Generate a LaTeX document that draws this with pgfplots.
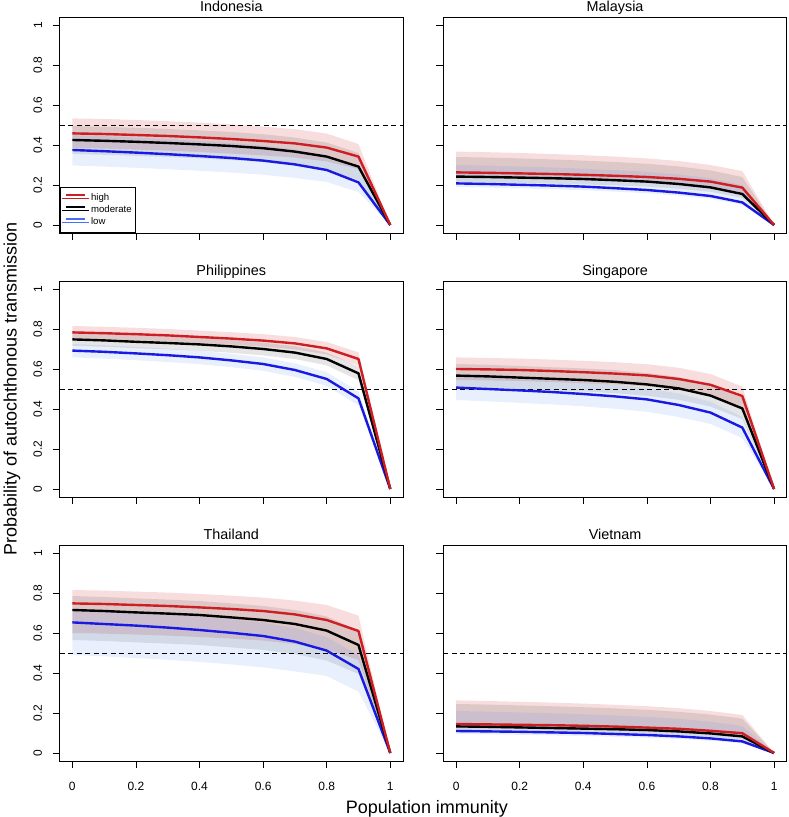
\documentclass[border=0pt]{standalone}
\usepackage{pgfplots}
\pgfplotsset{compat=1.18}
\usepackage{pgfplotstable}
\usepgfplotslibrary{fillbetween}
\usepackage{fontspec}
\setmainfont{Liberation Sans}

\definecolor{hicol}{RGB}{205,30,35}
\definecolor{locol}{RGB}{25,25,225}
\definecolor{leglo}{RGB}{70,110,250}
\definecolor{bandblue}{RGB}{100,150,240}

\pgfplotstableread{
x   hi    mo    lo    hiU   hiL   moU   moL   loU   loL
0.0 0.458 0.425 0.375 0.533 0.385 0.495 0.355 0.450 0.298
0.1 0.455 0.421 0.369 0.530 0.382 0.491 0.351 0.444 0.292
0.2 0.450 0.416 0.362 0.525 0.377 0.486 0.346 0.437 0.286
0.3 0.445 0.410 0.354 0.519 0.372 0.480 0.340 0.429 0.279
0.4 0.438 0.403 0.345 0.512 0.365 0.473 0.333 0.420 0.271
0.5 0.430 0.395 0.335 0.503 0.357 0.465 0.325 0.410 0.262
0.6 0.420 0.384 0.322 0.492 0.348 0.454 0.314 0.397 0.251
0.7 0.408 0.367 0.303 0.479 0.337 0.437 0.297 0.378 0.235
0.8 0.387 0.342 0.275 0.457 0.318 0.412 0.272 0.348 0.215
0.9 0.342 0.292 0.213 0.405 0.280 0.360 0.225 0.283 0.165
1.0 0     0     0     0     0     0     0     0     0
}\indo

\pgfplotstableread{
x   hi    mo    lo    hiU   hiL   moU   moL   loU   loL
0.0 0.263 0.242 0.208 0.367 0.235 0.340 0.215 0.300 0.190
0.1 0.261 0.240 0.205 0.364 0.233 0.337 0.213 0.297 0.187
0.2 0.258 0.237 0.201 0.360 0.230 0.333 0.210 0.293 0.183
0.3 0.255 0.234 0.197 0.355 0.227 0.328 0.207 0.288 0.179
0.4 0.251 0.230 0.192 0.349 0.223 0.322 0.203 0.282 0.174
0.5 0.246 0.224 0.184 0.342 0.218 0.315 0.198 0.275 0.167
0.6 0.240 0.217 0.175 0.333 0.212 0.306 0.192 0.266 0.159
0.7 0.231 0.205 0.162 0.320 0.204 0.293 0.181 0.253 0.147
0.8 0.217 0.188 0.145 0.300 0.191 0.273 0.166 0.234 0.131
0.9 0.187 0.155 0.113 0.270 0.163 0.240 0.135 0.200 0.101
1.0 0     0     0     0     0     0     0     0     0
}\malay

\pgfplotstableread{
x   hi    mo    lo    hiU   hiL   moU   moL   loU   loL
0.0 0.783 0.748 0.692 0.815 0.753 0.780 0.716 0.725 0.658
0.1 0.779 0.743 0.686 0.811 0.749 0.775 0.711 0.719 0.652
0.2 0.774 0.736 0.678 0.806 0.744 0.768 0.704 0.711 0.644
0.3 0.768 0.730 0.669 0.800 0.738 0.762 0.698 0.702 0.635
0.4 0.760 0.723 0.658 0.792 0.730 0.755 0.691 0.691 0.624
0.5 0.752 0.713 0.643 0.784 0.722 0.745 0.681 0.676 0.609
0.6 0.742 0.700 0.625 0.774 0.712 0.732 0.668 0.658 0.591
0.7 0.728 0.682 0.595 0.760 0.698 0.714 0.650 0.628 0.561
0.8 0.703 0.650 0.550 0.735 0.673 0.682 0.618 0.584 0.515
0.9 0.650 0.578 0.453 0.683 0.618 0.612 0.544 0.488 0.418
1.0 0     0     0     0     0     0     0     0     0
}\phil

\pgfplotstableread{
x   hi    mo    lo    hiU   hiL   moU   moL   loU   loL
0.0 0.600 0.567 0.507 0.658 0.545 0.625 0.510 0.565 0.445
0.1 0.598 0.563 0.500 0.655 0.543 0.621 0.506 0.558 0.438
0.2 0.595 0.557 0.493 0.652 0.540 0.615 0.500 0.551 0.431
0.3 0.590 0.551 0.485 0.647 0.535 0.609 0.494 0.543 0.423
0.4 0.584 0.545 0.475 0.641 0.529 0.603 0.488 0.533 0.413
0.5 0.577 0.536 0.463 0.634 0.522 0.594 0.479 0.521 0.401
0.6 0.568 0.523 0.448 0.624 0.513 0.580 0.466 0.505 0.386
0.7 0.550 0.503 0.420 0.606 0.495 0.560 0.446 0.477 0.360
0.8 0.521 0.467 0.382 0.575 0.466 0.522 0.412 0.437 0.325
0.9 0.465 0.403 0.307 0.512 0.415 0.455 0.350 0.360 0.255
1.0 0     0     0     0     0     0     0     0     0
}\sing

\pgfplotstableread{
x   hi    mo    lo    hiU   hiL   moU   moL   loU   loL
0.0 0.748 0.715 0.653 0.815 0.600 0.785 0.565 0.720 0.490
0.1 0.745 0.710 0.645 0.812 0.597 0.780 0.560 0.712 0.483
0.2 0.740 0.703 0.637 0.807 0.592 0.773 0.553 0.704 0.475
0.3 0.735 0.697 0.627 0.802 0.587 0.767 0.547 0.694 0.466
0.4 0.728 0.690 0.615 0.795 0.580 0.760 0.540 0.682 0.455
0.5 0.720 0.678 0.601 0.787 0.572 0.748 0.528 0.668 0.443
0.6 0.710 0.665 0.585 0.777 0.562 0.735 0.515 0.652 0.428
0.7 0.693 0.645 0.557 0.762 0.545 0.715 0.495 0.625 0.408
0.8 0.665 0.612 0.512 0.740 0.518 0.683 0.462 0.580 0.385
0.9 0.610 0.540 0.420 0.687 0.465 0.612 0.395 0.490 0.307
1.0 0     0     0     0     0     0     0     0     0
}\thai

\pgfplotstableread{
x   hi    mo    lo    hiU   hiL   moU   moL   loU   loL
0.0 0.145 0.133 0.110 0.263 0.125 0.245 0.115 0.210 0.095
0.1 0.143 0.131 0.108 0.260 0.123 0.242 0.113 0.207 0.093
0.2 0.141 0.128 0.106 0.256 0.121 0.238 0.110 0.203 0.091
0.3 0.139 0.125 0.103 0.252 0.119 0.234 0.107 0.199 0.088
0.4 0.136 0.122 0.100 0.247 0.116 0.229 0.104 0.194 0.085
0.5 0.132 0.119 0.095 0.241 0.112 0.223 0.101 0.188 0.081
0.6 0.127 0.115 0.090 0.234 0.107 0.216 0.097 0.181 0.076
0.7 0.121 0.108 0.083 0.224 0.101 0.206 0.090 0.171 0.070
0.8 0.111 0.098 0.073 0.210 0.092 0.192 0.081 0.157 0.061
0.9 0.099 0.083 0.058 0.190 0.080 0.172 0.068 0.135 0.048
1.0 0     0     0     0     0     0     0     0     0
}\viet

\newcommand{\tickfont}{\fontsize{12}{14}\selectfont}
\newcommand{\legfont}{\fontsize{9.6}{11}\selectfont}

\pgfplotsset{
  panel/.style={
    scale only axis, width=343.4pt, height=216pt, anchor=south west,
    xmin=-0.04, xmax=1.04, ymin=-0.04, ymax=1.04,
    xtick={0,0.2,0.4,0.6,0.8,1}, ytick={0,0.2,0.4,0.6,0.8,1},
    /pgf/number format/assume math mode=true,
    xticklabel={\tickfont\pgfmathprintnumber{\tick}},
    yticklabel={\tickfont\pgfmathprintnumber{\tick}},
    tick align=outside, tick pos=left, major tick length=7pt,
    every tick/.style={black, line width=0.8pt},
    axis line style={line width=0.8pt},
    xticklabel style={anchor=north, inner sep=0pt},
    yticklabel style={rotate=90, anchor=south, inner sep=0pt},
    xticklabel shift=13.7pt, yticklabel shift=10.3pt,
    title style={at={(0.5,1)}, anchor=base, yshift=-0.5pt, inner sep=0pt,
      font=\fontsize{14.4}{17}\selectfont},
  },
  nox/.style={xticklabels={}},
  noy/.style={yticklabels={}},
}

\newcommand{\drawpanel}[1]{%
  \addplot[draw=none, forget plot, name path=hU] table[x=x,y=hiU]{#1};
  \addplot[draw=none, forget plot, name path=hL] table[x=x,y=hiL]{#1};
  \addplot[draw=none, forget plot, name path=mU] table[x=x,y=moU]{#1};
  \addplot[draw=none, forget plot, name path=mL] table[x=x,y=moL]{#1};
  \addplot[draw=none, forget plot, name path=lU] table[x=x,y=loU]{#1};
  \addplot[draw=none, forget plot, name path=lL] table[x=x,y=loL]{#1};
  \addplot[fill=hicol, fill opacity=0.15, draw=none, forget plot] fill between[of=hU and hL];
  \addplot[fill=black, fill opacity=0.10, draw=none, forget plot] fill between[of=mU and mL];
  \addplot[fill=bandblue, fill opacity=0.15, draw=none, forget plot] fill between[of=lU and lL];
  \addplot[black, line width=0.9pt, dash pattern=on 5pt off 3.5pt, forget plot] coordinates {(-0.04,0.5) (1.04,0.5)};
  \addplot[locol, line width=2.4pt, line join=round, forget plot] table[x=x,y=lo]{#1};
  \addplot[black, line width=2.4pt, line join=round, forget plot] table[x=x,y=mo]{#1};
  \addplot[hicol, line width=2.4pt, line join=round, forget plot] table[x=x,y=hi]{#1};
}

\begin{document}
\begin{tikzpicture}
\begin{axis}[panel, nox, at={(59.6pt,584pt)}, title={Indonesia},
  legend style={at={(0,0)}, anchor=south west, draw=black, line width=0.8pt, fill=white,
    inner xsep=2pt, inner ysep=4.5pt,
    nodes={inner sep=1.5pt, text height=7pt, text depth=2pt}, row sep=0pt},
  legend cell align=left,
  legend image code/.code={\path (0pt,0pt) -- (26.8pt,0pt);
    \draw[#1, line width=2.6pt, line cap=butt] (4pt,3pt) -- (22.7pt,3pt);},
]
\addlegendimage{color=hicol}
\addlegendentry{\legfont high}
\addlegendimage{color=black}
\addlegendentry{\legfont moderate}
\addlegendimage{color=leglo}
\addlegendentry{\legfont low}
\drawpanel{\indo}
\end{axis}

\begin{axis}[panel, nox, noy, at={(443.4pt,584pt)}, title={Malaysia}]
\drawpanel{\malay}
\end{axis}

\begin{axis}[panel, nox, at={(59.6pt,320pt)}, title={Philippines}]
\drawpanel{\phil}
\end{axis}

\begin{axis}[panel, nox, noy, at={(443.4pt,320pt)}, title={Singapore}]
\drawpanel{\sing}
\end{axis}

\begin{axis}[panel, at={(59.6pt,56pt)}, title={Thailand}]
\drawpanel{\thai}
\end{axis}

\begin{axis}[panel, noy, at={(443.4pt,56pt)}, title={Vietnam}]
\drawpanel{\viet}
\end{axis}

\node[rotate=90, anchor=base, font=\fontsize{18}{20}\selectfont] at (16.5pt,428pt) {Probability of autochthonous transmission};
\node[anchor=base, font=\fontsize{18}{20}\selectfont] at (427pt,4pt) {Population immunity};
\pgfresetboundingbox
\path[use as bounding box] (0pt,0pt) rectangle (789pt,817pt);
\end{tikzpicture}
\end{document}
